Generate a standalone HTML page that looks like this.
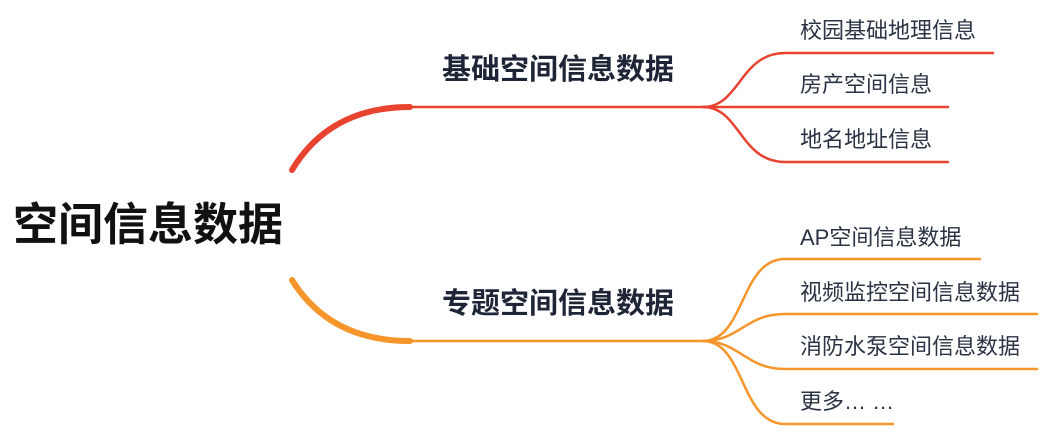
<!DOCTYPE html>
<html><head><meta charset="utf-8"><style>
body{margin:0;width:1054px;height:444px;background:#fff;overflow:hidden;position:relative;font-family:"Liberation Sans","Noto Sans CJK SC",sans-serif}
.t{position:absolute;white-space:nowrap;color:#1e2536;line-height:1}
.c{font-size:22px;color:#2a3344}
.b{font-size:29px;font-weight:bold}
</style></head><body>
<svg width="1054" height="444" style="position:absolute;left:0;top:0" fill="none" stroke-linecap="round">
<path d="M292,170 Q330,107 410,107" stroke="#e8432f" stroke-width="6"/>
<path d="M400,107 L703,107" stroke="#e8432f" stroke-width="2.5"/>
<path d="M703,107 C740,107 740,53 785,53 L993,53" stroke="#e8432f" stroke-width="2.5"/>
<path d="M703,107 L948,107" stroke="#e8432f" stroke-width="2.5"/>
<path d="M703,107 C740,107 740,162 785,162 L948,162" stroke="#e8432f" stroke-width="2.5"/>
<path d="M292,280 Q330,341 410,341" stroke="#f5952a" stroke-width="6"/>
<path d="M400,341 L703,341" stroke="#f5952a" stroke-width="2.5"/>
<path d="M703,341 C745,341 740,259 785,259 L980,259" stroke="#f5952a" stroke-width="2.5"/>
<path d="M703,341 C740,341 745,314 785,314 L1037,314" stroke="#f5952a" stroke-width="2.5"/>
<path d="M703,341 C740,341 745,369 785,369 L1037,369" stroke="#f5952a" stroke-width="2.5"/>
<path d="M703,341 C745,341 740,424 785,424 L893,424" stroke="#f5952a" stroke-width="2.5"/>
</svg>
<div class="t" style="left:13px;top:202px;font-size:45px;font-weight:bold;color:#111">空间信息数据</div>
<div class="t b" style="left:442px;top:56px">基础空间信息数据</div>
<div class="t b" style="left:442px;top:290px">专题空间信息数据</div>
<div class="t c" style="left:800px;top:20px">校园基础地理信息</div>
<div class="t c" style="left:800px;top:74px">房产空间信息</div>
<div class="t c" style="left:800px;top:129px">地名地址信息</div>
<div class="t c" style="left:800px;top:227px">AP空间信息数据</div>
<div class="t c" style="left:800px;top:282px">视频监控空间信息数据</div>
<div class="t c" style="left:800px;top:336px">消防水泵空间信息数据</div>
<div class="t c" style="left:800px;top:391px">更多… …</div>
</body></html>
